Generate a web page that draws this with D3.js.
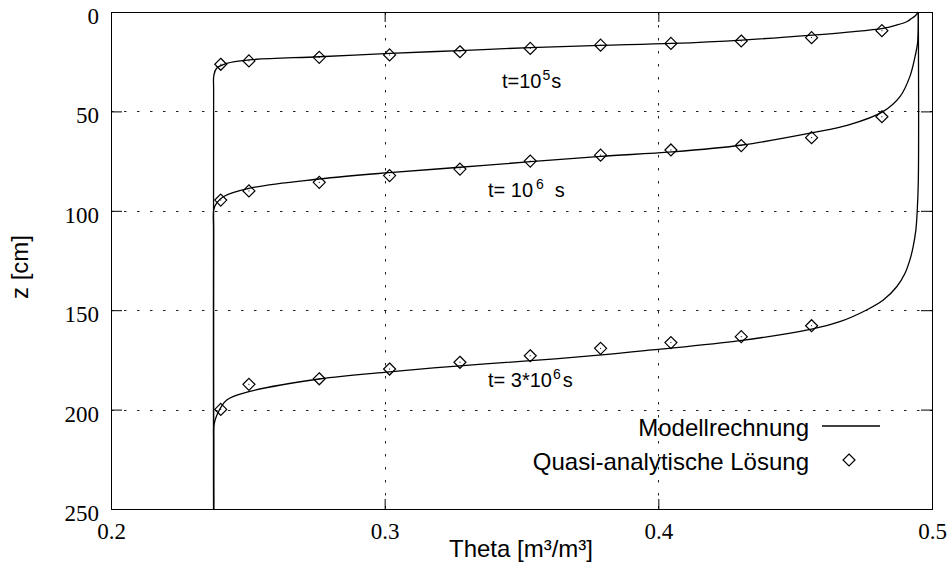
<!DOCTYPE html>
<html>
<head>
<meta charset="utf-8">
<script src="https://cdn.jsdelivr.net/npm/d3@7"></script>
<style>
  html, body { margin: 0; padding: 0; background: #fff; }
  svg { display: block; }
</style>
</head>
<body>
<svg id="chart" width="952" height="570"></svg>
<script>
// ---------------- data ----------------
const thetaTicks = [0.2, 0.3, 0.4, 0.5];
const zTicks = [0, 50, 100, 150, 200, 250];
const thetaGrid = [0.3, 0.4];
const zGrid = [50, 100, 150, 200];

// model curves (theta, z)
const model1 = [[0.4950,0],[0.4946,0.7],[0.4938,2.0],[0.4925,3.3],[0.4907,4.9],[0.4870,6.6],[0.4821,8.2],
  [0.4693,10.1],[0.4564,11.6],[0.4307,14.1],[0.4050,15.8],[0.3789,16.8],[0.3531,17.9],[0.3275,19.4],
  [0.3019,20.8],[0.2760,22.5],[0.2504,24.1],[0.2423,25.8],[0.2386,28.3],[0.2376,31.7],[0.2375,40],[0.2375,250]];
const model2 = [[0.4950,0],[0.4950,8],[0.4947,15.8],[0.4938,22.5],[0.4919,32.5],[0.4883,42.6],[0.4821,50.1],
  [0.4693,56.9],[0.4564,60.7],[0.4307,66.9],[0.4050,70.4],[0.3790,72.6],[0.3533,75.3],[0.3275,78.1],
  [0.3017,80.8],[0.2761,84.0],[0.2504,88.7],[0.2410,92.9],[0.2386,96.2],[0.2376,99],[0.2375,110],[0.2375,250]];
const model3 = [[0.4950,0],[0.4950,85],[0.4946,100.1],[0.4941,109.7],[0.4931,118.1],[0.4919,124.8],[0.4901,131.5],
  [0.4871,138.2],[0.4822,144.9],[0.4761,149.9],[0.4663,155.8],[0.4560,159.5],[0.4298,165.3],[0.3977,170],
  [0.3793,172.5],[0.3533,175.4],[0.3275,178],[0.3017,181],[0.2761,184.6],[0.2504,191],[0.2423,195.2],
  [0.2387,202.7],[0.2376,208],[0.2375,215],[0.2375,250]];

// quasi-analytic points
const thetaPts = [0.2401,0.2504,0.2761,0.3018,0.3275,0.3532,0.3789,0.4046,0.4303,0.4560,0.4817];
const zPts1 = [26.3,24.6,22.8,21.6,20.0,18.3,16.7,15.8,14.6,12.9,9.4];
const zPts2 = [94.6,90.0,85.7,82.3,79.0,75.0,72.0,69.4,67.2,63.2,52.7];
const zPts3 = [199.9,187.3,184.5,179.6,176.2,172.9,169.2,166.3,163.3,157.8];

const legendLabels = ["Modellrechnung", "Quasi-analytische Lösung"];
const xTitle = "Theta [m³/m³]";
const yTitle = "z [cm]";

// ---------------- drawing ----------------
const svg = d3.select("#chart");
const L = 111, R = 932, T = 12, B = 509;
const x = d3.scaleLinear().domain([0.2, 0.5]).range([L, R]);
const y = d3.scaleLinear().domain([0, 250]).range([T, B]);
const SERIF = "'Liberation Serif', 'Times New Roman', Times, serif";
const SANS = "'Liberation Sans', Arial, Helvetica, sans-serif";

// grid
const grid = svg.append("g").attr("stroke", "#222").attr("stroke-width", 1).attr("fill", "none");
grid.selectAll("line.gx").data(thetaGrid).join("line")
  .attr("x1", d => Math.round(x(d)) + 0.5).attr("x2", d => Math.round(x(d)) + 0.5)
  .attr("y1", T).attr("y2", B).attr("stroke-dasharray", "2.5,10.5");
grid.selectAll("line.gy").data(zGrid).join("line")
  .attr("y1", d => Math.round(y(d)) + 0.5).attr("y2", d => Math.round(y(d)) + 0.5)
  .attr("x1", L).attr("x2", R).attr("stroke-dasharray", "2.5,10.5");

// axes
const fmtX = d3.format(".1f");
const gx = svg.append("g").attr("transform", `translate(0,${B})`)
  .call(d3.axisBottom(x).tickValues(thetaTicks).tickFormat(fmtX).tickSize(-10).tickPadding(0));
const gxTop = svg.append("g").attr("transform", `translate(0,${T})`)
  .call(d3.axisTop(x).tickValues(thetaTicks).tickFormat("").tickSize(-10));
const gy = svg.append("g").attr("transform", `translate(${L},0)`)
  .call(d3.axisLeft(y).tickValues(zTicks).tickFormat(d3.format("d")).tickSize(-11).tickPadding(12));
const gyR = svg.append("g").attr("transform", `translate(${R},0)`)
  .call(d3.axisRight(y).tickValues(zTicks).tickFormat("").tickSize(-11));
[gx, gxTop, gy, gyR].forEach(g => {
  g.attr("font-family", SERIF).attr("font-size", 23);
  g.select(".domain").remove();
  g.selectAll(".tick line").attr("stroke", "#000").attr("stroke-width", 1);
});
gx.selectAll(".tick text").style("font-family", SERIF).style("font-size", "23px")
  .attr("fill", "#000").attr("y", 30).attr("dy", 0);
gy.selectAll(".tick text").style("font-family", SERIF).style("font-size", "23px")
  .attr("fill", "#000").attr("dy", "0.5em");

// border
svg.append("rect").attr("x", L + 0.5).attr("y", T + 0.5).attr("width", R - L).attr("height", B - T)
  .attr("fill", "none").attr("stroke", "#000").attr("stroke-width", 1);

// axis titles
svg.append("text").style("font-family", SANS).attr("x", 521).attr("y", 557).attr("text-anchor", "middle")
  .style("font-size", "24px").text(xTitle);
svg.append("text").style("font-family", SANS).attr("transform", "translate(28,267) rotate(-90)")
  .attr("text-anchor", "middle").style("font-size", "24px").text(yTitle);

// model curves
const line = d3.line().x(d => x(d[0])).y(d => y(d[1])).curve(d3.curveCatmullRom.alpha(0.5));
svg.append("g").selectAll("path").data([model1, model2, model3]).join("path")
  .attr("d", line).attr("fill", "none").attr("stroke", "#000").attr("stroke-width", 1.3);

// diamonds
const diamond = "M0,-6L6,0L0,6L-6,0Z";
function drawPts(zs) {
  const pts = zs.map((z, i) => [thetaPts[i], z]);
  const g = svg.append("g");
  const p = g.selectAll("g").data(pts).join("g")
    .attr("transform", d => `translate(${x(d[0])},${y(d[1])})`);
  p.append("path").attr("d", diamond).attr("fill", "none").attr("stroke", "#000").attr("stroke-width", 1.2);
  p.append("rect").attr("x", -0.5).attr("y", -0.5).attr("width", 1).attr("height", 1).attr("fill", "#000");
}
drawPts(zPts1); drawPts(zPts2); drawPts(zPts3);

// annotations
function label(xp, yp, pre, sup, post, dxSup, dxPost) {
  const t = svg.append("text").style("font-family", SANS).attr("x", xp).attr("y", yp).style("font-size", "20px");
  t.append("tspan").text(pre);
  t.append("tspan").style("font-size", "14px").attr("dx", dxSup).attr("dy", -8).text(sup);
  t.append("tspan").attr("dx", dxPost).attr("dy", 8).text(post);
}
label(502, 88, "t=10", "5", "s", 1, 1);
label(488, 197, "t= 10", "6", "s", 3, 11);
label(488, 387, "t= 3*10", "6", "s", 1, 2);

// legend
svg.append("text").style("font-family", SANS).attr("x", 809).attr("y", 436).attr("text-anchor", "end")
  .style("font-size", "24px").text(legendLabels[0]);
svg.append("line").attr("x1", 822).attr("x2", 880).attr("y1", 426).attr("y2", 426)
  .attr("stroke", "#000").attr("stroke-width", 1.3);
svg.append("text").style("font-family", SANS).attr("x", 809).attr("y", 470).attr("text-anchor", "end")
  .style("font-size", "24px").text(legendLabels[1]);
const lg = svg.append("g").attr("transform", "translate(849,460)");
lg.append("path").attr("d", diamond).attr("fill", "none").attr("stroke", "#000").attr("stroke-width", 1.2);
</script>
</body>
</html>
